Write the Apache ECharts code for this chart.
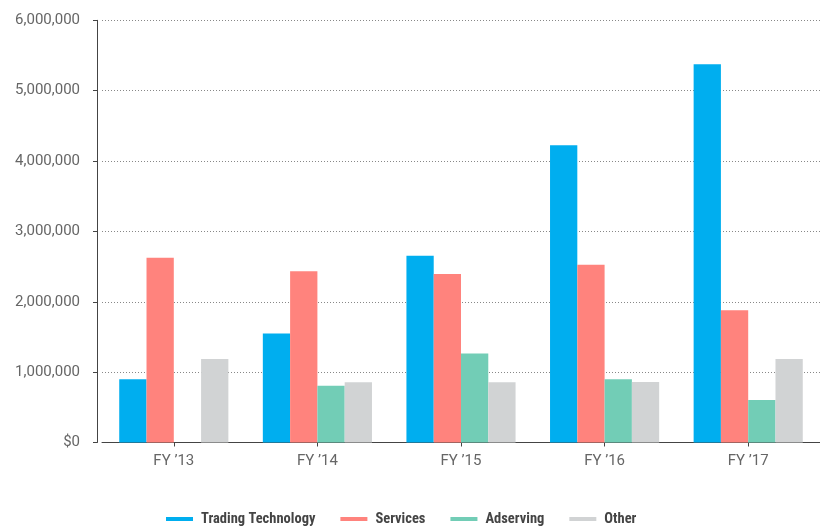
<!DOCTYPE html>
<html>
<head>
<meta charset="utf-8">
<script src="https://cdn.jsdelivr.net/npm/echarts@6/dist/echarts.min.js"></script>
<style>html,body{margin:0;padding:0;background:#fff;}#c{width:820px;height:527px;}</style>
</head>
<body>
<div id="c"></div>
<script>
var categories = ['FY \u201913', 'FY \u201914', 'FY \u201915', 'FY \u201916', 'FY \u201917'];
var tradingTechnology = [900000, 1550000, 2655000, 4225000, 5375000];
var services = [2625000, 2435000, 2395000, 2525000, 1880000];
var adserving = [null, 805000, 1265000, 900000, 605000];
var other = [1185000, 855000, 855000, 860000, 1185000];
var seriesNames = ['Trading Technology', 'Services', 'Adserving', 'Other'];
var yTicks = [0, 1000000, 2000000, 3000000, 4000000, 5000000, 6000000];

var colors = ['#00AEEF', '#FF837D', '#72CDB6', '#D1D3D4'];
var chart = echarts.init(document.getElementById('c'));
function fmt(v) {
  if (v === 0) return '$0';
  return String(v).replace(/\B(?=(\d{3})+(?!\d))/g, ',');
}
chart.setOption({
  animation: false,
  color: colors,
  textStyle: { fontFamily: 'Roboto' },
  grid: { left: 102, top: 20.3, width: 723, bottom: 84.5, containLabel: false },
  legend: {
    left: 166, top: 510, padding: 0,
    itemWidth: 27, itemHeight: 4, itemGap: 25,
    icon: 'rect',
    textStyle: { fontFamily: '"Roboto Condensed","Liberation Sans Narrow","DejaVu Sans Condensed",Roboto', fontWeight: 'bold', fontSize: 14.5, lineHeight: 18, color: '#444', padding: [0, 0, 0, 3] },
    data: seriesNames
  },
  xAxis: {
    type: 'category',
    data: categories,
    axisLine: { lineStyle: { color: '#444', width: 1 } },
    axisTick: { show: true, alignWithLabel: true, length: 4, lineStyle: { color: '#444' } },
    axisLabel: { color: '#666', fontSize: 15, margin: 11 }
  },
  yAxis: {
    type: 'value',
    min: yTicks[0], max: yTicks[yTicks.length - 1], interval: yTicks[1] - yTicks[0],
    offset: 5,
    axisLine: { show: true, lineStyle: { color: '#444', width: 1 } },
    axisTick: { show: true, length: 4, lineStyle: { color: '#444' } },
    axisLabel: { color: '#666', fontSize: 15, margin: 17, formatter: fmt },
    splitLine: { show: true, lineStyle: { color: '#888', type: [1, 2], width: 1 } }
  },
  series: [
    { name: seriesNames[0], type: 'bar', data: tradingTechnology, barGap: '0%', barCategoryGap: '24%' },
    { name: seriesNames[1], type: 'bar', data: services, barGap: '0%', barCategoryGap: '24%' },
    { name: seriesNames[2], type: 'bar', data: adserving, barGap: '0%', barCategoryGap: '24%' },
    { name: seriesNames[3], type: 'bar', data: other, barGap: '0%', barCategoryGap: '24%' }
  ]
});
</script>
</body>
</html>
